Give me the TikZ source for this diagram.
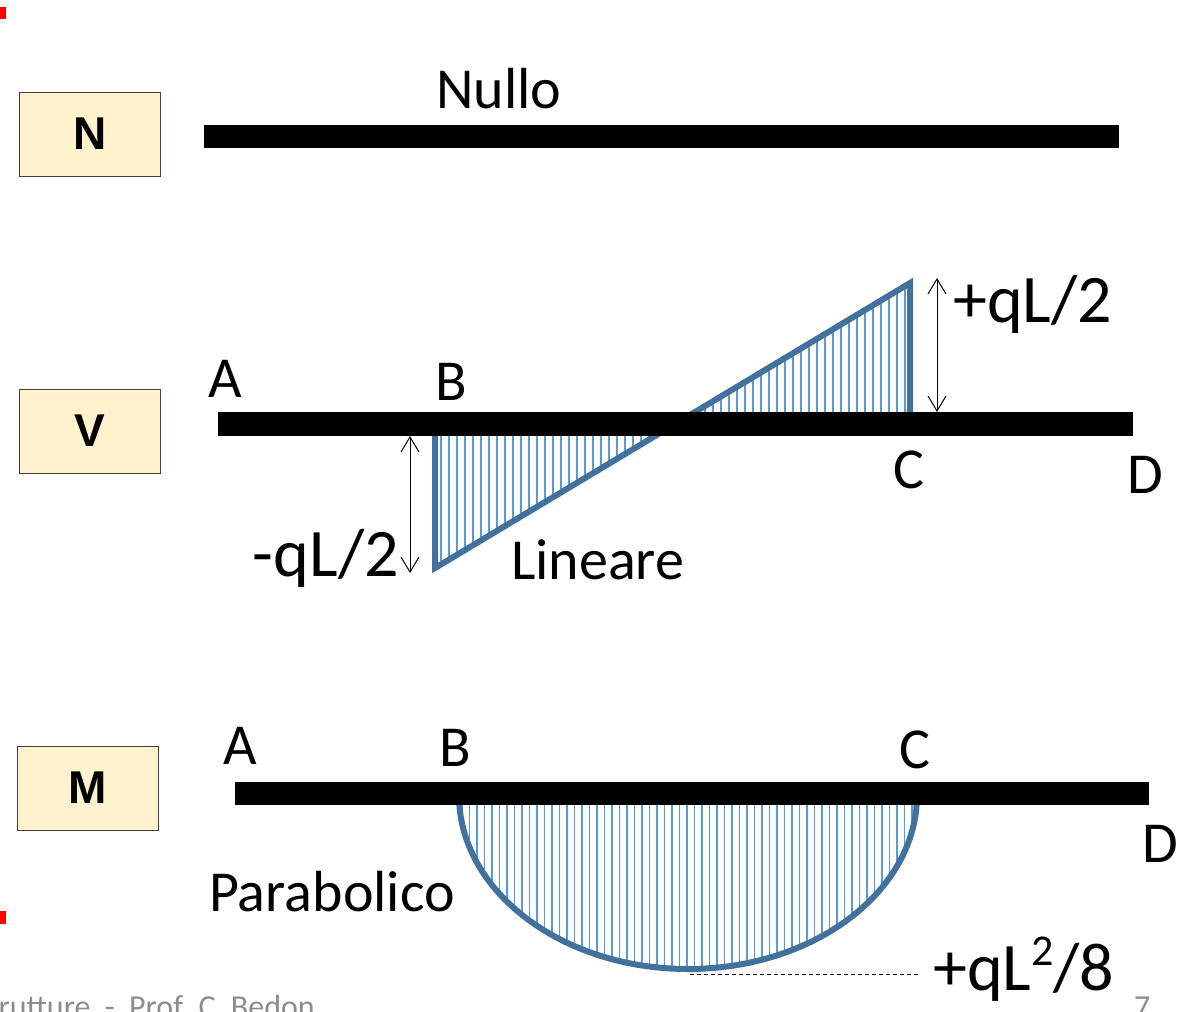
\documentclass[tikz,border=0pt]{standalone}
\usepackage{fontspec}
\setmainfont{Carlito}
\newfontfamily\boxfont{Liberation Sans}
\usetikzlibrary{arrows.meta}
\definecolor{boxfill}{HTML}{FFF2CC}
\definecolor{outl}{HTML}{41719C}
\definecolor{hatchc}{HTML}{5B9BD5}
\definecolor{footgray}{HTML}{8C8C8C}
\begin{document}
\begin{tikzpicture}[x=1pt,y=-1pt,
  tagbox/.style={draw=black!75,line width=1pt,fill=boxfill,minimum width=141pt,minimum height=84pt,inner sep=0pt,
    font=\boxfont\bfseries\fontsize{46}{50}\selectfont},
  lbl/.style={inner sep=0pt,font=\fontsize{58}{62}\selectfont},
  biglbl/.style={inner sep=0pt,font=\fontsize{68}{72}\selectfont},
  foot/.style={inner sep=0pt,text=footgray,font=\fontsize{32}{36}\selectfont},
  beamfill/.style={fill=black},
  outline/.style={draw=outl,line width=6pt,line join=miter},
  hatch/.style={draw=hatchc,line width=1.5pt},
  dimarrow/.style={line width=1pt,{Straight Barb[length=15pt,width=18pt]}-{Straight Barb[length=15pt,width=18pt]}},
  dimline/.style={line width=1pt,dashed,dash pattern=on 4pt off 3pt}]
\useasboundingbox (0,0) rectangle (1192,1012);
\clip (0,0) rectangle (1192,1012);

% red marks
\fill[red] (0,7) rectangle (6,19);
\fill[red] (0,911) rectangle (6,924);

% ---------- N ----------
\node[tagbox] (Nbox) at (90,134) {N};
\fill[beamfill] (204,125) rectangle (1119,148);
\node[lbl,anchor=base west] (nullo) at (436,108) {Nullo};

% ---------- V ----------
\node[tagbox] (Vbox) at (90,431) {V};
\coordinate (Bt) at (435,424);
\coordinate (Bb) at (435,568);
\coordinate (Z) at (675,424);
\coordinate (Ct) at (910,283);
\coordinate (Cb) at (910,424);
\begin{scope}
  \clip (Bt) -- (Bb) -- (Z) -- cycle;
  \foreach \xx in {441,449,...,680} \draw[hatch] (\xx,420) -- (\xx,575);
\end{scope}
\begin{scope}
  \clip (Z) -- (Ct) -- (Cb) -- cycle;
  \foreach \xx in {673,681,...,912} \draw[hatch] (\xx,275) -- (\xx,430);
\end{scope}
\draw[outline] (Bt) -- (Bb) -- (Z);
\draw[outline] (Z) -- (Ct) -- (Cb);
\fill[beamfill] (218,412) rectangle (1133,436);
\coordinate (vlt) at (410,436);
\coordinate (vlb) at (410,573);
\coordinate (vrt) at (937,278);
\coordinate (vrb) at (937,412);
\draw[dimarrow] (vlt) -- (vlb);
\draw[dimarrow] (vrt) -- (vrb);
\node[lbl,anchor=base] (VA) at (225,397) {A};
\node[lbl,anchor=base] (VB) at (451,400) {B};
\node[lbl,anchor=base] (VC) at (909,488) {C};
\node[lbl,anchor=base] (VD) at (1145,493) {D};
\node[biglbl,anchor=base east] (vneg) at (399,576) {-qL/2};
\node[biglbl,anchor=base west] (vpos) at (953,322) {+qL/2};
\node[lbl,anchor=base west] (lin) at (511,579) {Lineare};

% ---------- M ----------
\node[tagbox] (Mbox) at (88,788) {M};
\begin{scope}
  \clip (400,796) rectangle (1000,1000);
  \begin{scope}
    \clip (688,795) ellipse [x radius=229, y radius=174];
    \foreach \xx in {462,469.5,...,918} \draw[hatch] (\xx,790) -- (\xx,975);
  \end{scope}
  \draw[outline] (688,795) ellipse [x radius=229, y radius=174];
\end{scope}
\fill[beamfill] (235,782) rectangle (1149,805);
\coordinate (mb) at (690,974);
\coordinate (me) at (918,974);
\draw[dimline] (mb) -- (me);
\node[lbl,anchor=base] (MA) at (240,764) {A};
\node[lbl,anchor=base] (MB) at (455,766) {B};
\node[lbl,anchor=base] (MC) at (915,768) {C};
\node[lbl,anchor=base] (MD) at (1160,862) {D};
\node[lbl,anchor=base west] (para) at (209,911) {Parabolico};
\node[biglbl,anchor=base west] (mval) at (933,990) {+qL\raisebox{0.36em}{\fontsize{44}{46}\selectfont 2}/8};

% footer
\node[foot,anchor=base east] (footer) at (315,1017) {Strutture\ \ -\ \ Prof. C. Bedon};
\node[foot,anchor=base west] (pnum) at (1134,1017) {7};
\end{tikzpicture}
\end{document}
